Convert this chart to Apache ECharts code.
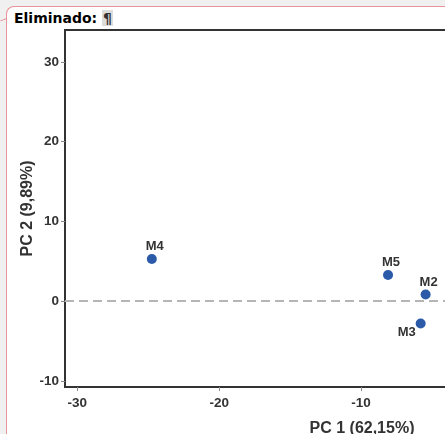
<!DOCTYPE html>
<html>
<head>
<meta charset="utf-8">
<script src="https://cdn.jsdelivr.net/npm/echarts@6/dist/echarts.min.js"></script>
<style>
  html, body { margin: 0; padding: 0; width: 445px; height: 434px; overflow: hidden; background: #f0f0f0; position: relative; }
  #frame { position: absolute; left: 6px; top: 6px; width: 600px; height: 600px; background: #ffffff;
           border-left: 1.5px solid #e8959a; border-top: 1.5px solid #e8959a; border-top-left-radius: 8px; }
  #connector { position: absolute; left: 0px; top: 18px; width: 7px; height: 1px; background: #e8959a; transform: rotate(-20deg); transform-origin: right center; }
  #note { position: absolute; left: 14px; top: 10px; font-family: "DejaVu Sans", sans-serif; font-weight: bold; font-size: 14px; color: #000; }
  #note .pil { background: #dcdcdc; color: #333; padding: 0 1px; }
  #chart { position: absolute; left: 0; top: 0; width: 720px; height: 434px; }
</style>
</head>
<body>
<div id="frame"></div>
<div id="connector"></div>
<div id="note">Eliminado: <span class="pil">¶</span></div>
<div id="chart"></div>
<script>
// ---- data ----
const names = ['M4', 'M5', 'M2', 'M3'];
const pc1 = [-24.75, -8.1, -5.45, -5.8];
const pc2 = [5.3, 3.3, 0.85, -2.8];
const xTicks = [-30, -20, -10, 0, 10];
const yTicks = [-10, 0, 10, 20, 30];
const xTitle = 'PC 1 (62,15%)';
const yTitle = 'PC 2 (9,89%)';

// ---- styles ----
const labelStyle = { M3: { position: 'bottom', offset: [-14, -4] } };

const chart = echarts.init(document.getElementById('chart'), null, { renderer: 'canvas' });
const font = '"Liberation Sans", Arial, sans-serif';

const points = names.map((n, i) => {
  const d = { name: n, value: [pc1[i], pc2[i]] };
  if (labelStyle[n]) d.label = labelStyle[n];
  return d;
});

chart.setOption({
  backgroundColor: 'transparent',
  animation: false,
  grid: { left: 65, top: 30, width: 594, height: 357, outerBoundsMode: 'none', containLabel: false,
          show: true, borderColor: '#333', borderWidth: 2, backgroundColor: 'transparent' },
  xAxis: {
    type: 'value', min: -30.87, max: 11,
    name: xTitle, nameLocation: 'middle', nameGap: 34, nameMoveOverlap: false,
    nameTextStyle: { fontFamily: font, fontWeight: 'bold', fontSize: 16, color: '#333' },
    axisLine: { show: true, onZero: false, lineStyle: { color: '#333', width: 2 } },
    axisTick: { show: true, length: 4, lineStyle: { color: '#888' }, customValues: xTicks },
    axisLabel: { margin: 9, fontFamily: font, fontWeight: 'bold', fontSize: 13.5, color: '#333', customValues: xTicks },
    splitLine: { show: false }
  },
  yAxis: {
    type: 'value', min: -10.75, max: 34,
    name: yTitle, nameLocation: 'middle', nameGap: 29, nameMoveOverlap: false,
    nameTextStyle: { fontFamily: font, fontWeight: 'bold', fontSize: 16, color: '#333' },
    axisLine: { show: true, onZero: false, lineStyle: { color: '#333', width: 2 } },
    axisTick: { show: true, length: 4, lineStyle: { color: '#888' }, customValues: yTicks },
    axisLabel: { margin: 6, fontFamily: font, fontWeight: 'bold', fontSize: 13.5, color: '#333', customValues: yTicks },
    splitLine: { show: false }
  },
  series: [{
    type: 'scatter',
    symbolSize: 10,
    itemStyle: { color: '#2a5aa8', opacity: 1 },
    label: {
      show: true, position: 'top', distance: 1, offset: [3, 0],
      formatter: '{b}', fontFamily: font, fontWeight: 'bold', fontSize: 13, color: '#333'
    },
    data: points,
    markLine: {
      silent: true, symbol: 'none', label: { show: false },
      lineStyle: { color: '#b5b5b5', width: 2, type: [9, 5] },
      data: [{ yAxis: 0 }]
    }
  }]
});
</script>
</body>
</html>
